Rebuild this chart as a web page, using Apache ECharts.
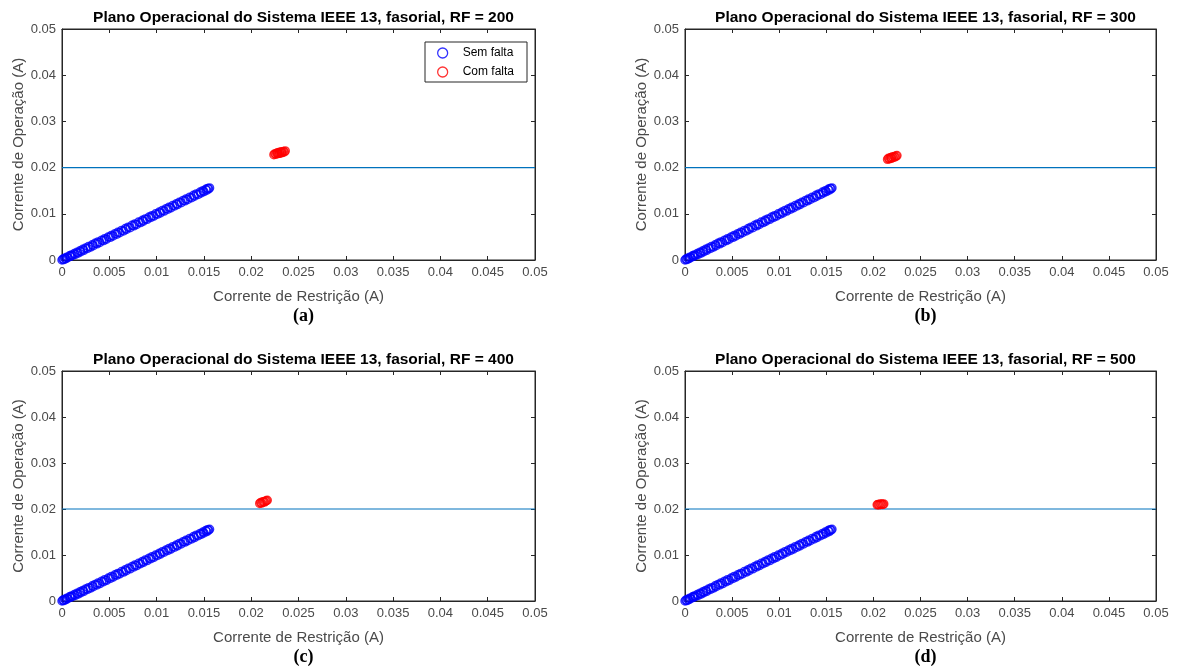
<!DOCTYPE html>
<html>
<head>
<meta charset="utf-8">
<script src="https://cdn.jsdelivr.net/npm/echarts@6/dist/echarts.min.js"></script>
<style>html,body{margin:0;padding:0;background:#fff}#c{width:1179px;height:668px}</style>
</head>
<body>
<div id="c"></div>
<script>
// ---------- data ----------
const panelTitles = [
  'Plano Operacional do Sistema IEEE 13, fasorial, RF = 200',
  'Plano Operacional do Sistema IEEE 13, fasorial, RF = 300',
  'Plano Operacional do Sistema IEEE 13, fasorial, RF = 400',
  'Plano Operacional do Sistema IEEE 13, fasorial, RF = 500'
];
const panelLetters = ['(a)', '(b)', '(c)', '(d)'];
const xAxisName = 'Corrente de Restrição (A)';
const yAxisName = 'Corrente de Operação (A)';
const seriesNames = ['Sem falta', 'Com falta'];
const threshold = 0.02;
const thresholdX = [0, 0.05];

const blueX = [0.0000,0.0001,0.0002,0.0003,0.0004,0.0005,0.0006,0.0008,0.0009,0.0010,0.0011,0.0013,0.0014,0.0016,0.0017,0.0019,0.0020,0.0022,0.0023,0.0025,0.0027,0.0028,0.0030,0.0032,0.0033,0.0035,0.0037,0.0038,0.0040,0.0042,0.0044,0.0045,0.0047,0.0049,0.0051,0.0052,0.0054,0.0056,0.0058,0.0059,0.0061,0.0063,0.0065,0.0067,0.0068,0.0070,0.0072,0.0074,0.0076,0.0077,0.0079,0.0081,0.0083,0.0085,0.0086,0.0088,0.0090,0.0092,0.0094,0.0095,0.0097,0.0099,0.0101,0.0103,0.0104,0.0106,0.0108,0.0110,0.0112,0.0113,0.0115,0.0117,0.0119,0.0121,0.0122,0.0124,0.0126,0.0128,0.0130,0.0131,0.0133,0.0135,0.0137,0.0139,0.0140,0.0142,0.0144,0.0146,0.0147,0.0149,0.0150,0.0152,0.0153,0.0154,0.0155,0.0156];
const blueY = [0.0000,0.0002,0.0001,0.0004,0.0003,0.0006,0.0005,0.0009,0.0008,0.0011,0.0010,0.0014,0.0012,0.0017,0.0015,0.0020,0.0018,0.0023,0.0021,0.0026,0.0025,0.0029,0.0028,0.0033,0.0031,0.0036,0.0035,0.0039,0.0038,0.0043,0.0042,0.0046,0.0045,0.0050,0.0049,0.0053,0.0052,0.0057,0.0056,0.0060,0.0059,0.0064,0.0063,0.0068,0.0066,0.0071,0.0070,0.0075,0.0074,0.0078,0.0077,0.0082,0.0081,0.0086,0.0084,0.0089,0.0088,0.0093,0.0092,0.0096,0.0095,0.0100,0.0099,0.0104,0.0102,0.0107,0.0106,0.0111,0.0110,0.0114,0.0113,0.0118,0.0117,0.0122,0.0120,0.0125,0.0124,0.0129,0.0128,0.0132,0.0131,0.0136,0.0135,0.0140,0.0138,0.0143,0.0142,0.0147,0.0145,0.0150,0.0148,0.0153,0.0151,0.0155,0.0154,0.0156];

const redAX = [0.0224,0.0225,0.0226,0.0227,0.0228,0.0228,0.0229,0.0230,0.0230,0.0231,0.0232,0.0232,0.0233,0.0234,0.0235,0.0236];
const redAY = [0.0228,0.0230,0.0229,0.0231,0.0230,0.0232,0.0231,0.0233,0.0231,0.0233,0.0232,0.0234,0.0233,0.0235,0.0234,0.0236];
const redBX = [0.0215,0.0216,0.0217,0.0218,0.0219,0.0219,0.0220,0.0221,0.0222,0.0223,0.0224,0.0225];
const redBY = [0.0218,0.0220,0.0219,0.0221,0.0220,0.0222,0.0223,0.0222,0.0224,0.0223,0.0225,0.0226];
const redCX = [0.0209,0.0210,0.0211,0.0212,0.0213,0.0214,0.0215,0.0216,0.0217];
const redCY = [0.0212,0.0214,0.0213,0.0215,0.0216,0.0215,0.0217,0.0218,0.0219];
const redDX = [0.0204,0.0205,0.0206,0.0207,0.0208,0.0209,0.0210,0.0211];
const redDY = [0.0209,0.0210,0.0209,0.0211,0.0210,0.0211,0.0210,0.0211];

const redXs = [redAX, redBX, redCX, redDX];
const redYs = [redAY, redBY, redCY, redDY];

// ---------- layout ----------
const grids = [
  {left: 62, top: 29, width: 473, height: 231},
  {left: 685, top: 29, width: 471, height: 231},
  {left: 62, top: 371, width: 473, height: 230},
  {left: 685, top: 371, width: 471, height: 230}
];
const TXT = '#4a4a4a';
const AX = '#262626';
const FONT = 'Liberation Sans, Arial, sans-serif';
const fmt = v => String(Math.round(v * 10000) / 10000);

const option = {
  animation: false,
  backgroundColor: '#fff',
  title: [],
  grid: [],
  xAxis: [],
  yAxis: [],
  series: [],
  legend: {
    left: 425, top: 42, orient: 'vertical',
    padding: [5, 13, 4, 12],
    itemGap: 7,
    itemWidth: 10, itemHeight: 10,
    borderColor: '#262626', borderWidth: 1,
    backgroundColor: '#fff',
    textStyle: {fontFamily: FONT, fontSize: 12, color: '#000', padding: [0, 0, 0, 10]},
    data: [
      {name: seriesNames[0], icon: 'circle', itemStyle: {color: 'transparent', borderColor: '#0000ff', borderWidth: 1.3}},
      {name: seriesNames[1], icon: 'circle', itemStyle: {color: 'transparent', borderColor: '#ff0000', borderWidth: 1.3}}
    ]
  }
};

grids.forEach((g, i) => {
  option.grid.push(Object.assign({show: true, borderColor: AX, borderWidth: 1, backgroundColor: '#fff'}, g));
  const cx = g.left + g.width / 2;
  option.title.push({
    text: panelTitles[i], left: cx, top: g.top - 24, textAlign: 'center',
    textStyle: {fontFamily: FONT, fontSize: 15.5, fontWeight: 'bold', color: '#000'}
  });
  option.title.push({
    text: panelLetters[i], left: cx, top: g.top + g.height + 42, textAlign: 'center',
    textStyle: {fontFamily: 'Liberation Serif, Times New Roman, serif', fontSize: 18, fontWeight: 'bold', color: '#000'}
  });
  option.xAxis.push({
    type: 'value', gridIndex: i, min: 0, max: 0.05, interval: 0.005, position: 'bottom',
    name: xAxisName, nameLocation: 'middle', nameGap: 29,
    nameTextStyle: {fontFamily: FONT, fontSize: 15, color: TXT},
    axisLine: {show: true, onZero: false, lineStyle: {color: AX, width: 1}},
    axisTick: {show: true, inside: true, length: 4, lineStyle: {color: AX}},
    axisLabel: {formatter: fmt, fontFamily: FONT, fontSize: 13, color: TXT, margin: 6},
    splitLine: {show: false}
  });
  option.xAxis.push({
    type: 'value', gridIndex: i, min: 0, max: 0.05, interval: 0.005, position: 'top',
    axisLine: {show: true, onZero: false, lineStyle: {color: AX, width: 1}},
    axisTick: {show: true, inside: true, length: 4, lineStyle: {color: AX}},
    axisLabel: {show: false}, splitLine: {show: false}
  });
  option.yAxis.push({
    type: 'value', gridIndex: i, min: 0, max: 0.05, interval: 0.01, position: 'left',
    name: yAxisName, nameLocation: 'middle', nameGap: 36,
    nameTextStyle: {fontFamily: FONT, fontSize: 15, color: TXT},
    axisLine: {show: true, onZero: false, lineStyle: {color: AX, width: 1}},
    axisTick: {show: true, inside: true, length: 4, lineStyle: {color: AX}},
    axisLabel: {formatter: fmt, fontFamily: FONT, fontSize: 13, color: TXT, margin: 6},
    splitLine: {show: false}
  });
  option.yAxis.push({
    type: 'value', gridIndex: i, min: 0, max: 0.05, interval: 0.01, position: 'right',
    axisLine: {show: true, onZero: false, lineStyle: {color: AX, width: 1}},
    axisTick: {show: true, inside: true, length: 4, lineStyle: {color: AX}},
    axisLabel: {show: false}, splitLine: {show: false}
  });
  option.series.push({
    type: 'line', xAxisIndex: 2 * i, yAxisIndex: 2 * i,
    data: thresholdX.map(x => [x, threshold]),
    symbol: 'none', lineStyle: {color: '#0072bd', width: 1.2}, silent: true, z: 1
  });
  option.series.push({
    name: seriesNames[0], type: 'scatter', xAxisIndex: 2 * i, yAxisIndex: 2 * i,
    data: blueX.map((x, k) => [x, blueY[k]]),
    symbol: 'circle', symbolSize: 8,
    itemStyle: {color: 'transparent', borderColor: '#0000ff', borderWidth: 1.5}, z: 3
  });
  option.series.push({
    name: seriesNames[1], type: 'scatter', xAxisIndex: 2 * i, yAxisIndex: 2 * i,
    data: redXs[i].map((x, k) => [x, redYs[i][k]]),
    symbol: 'circle', symbolSize: 8,
    itemStyle: {color: 'transparent', borderColor: '#ff0000', borderWidth: 1.5}, z: 3
  });
});

const chart = echarts.init(document.getElementById('c'), null, {renderer: 'canvas'});
chart.setOption(option);
</script>
</body>
</html>
